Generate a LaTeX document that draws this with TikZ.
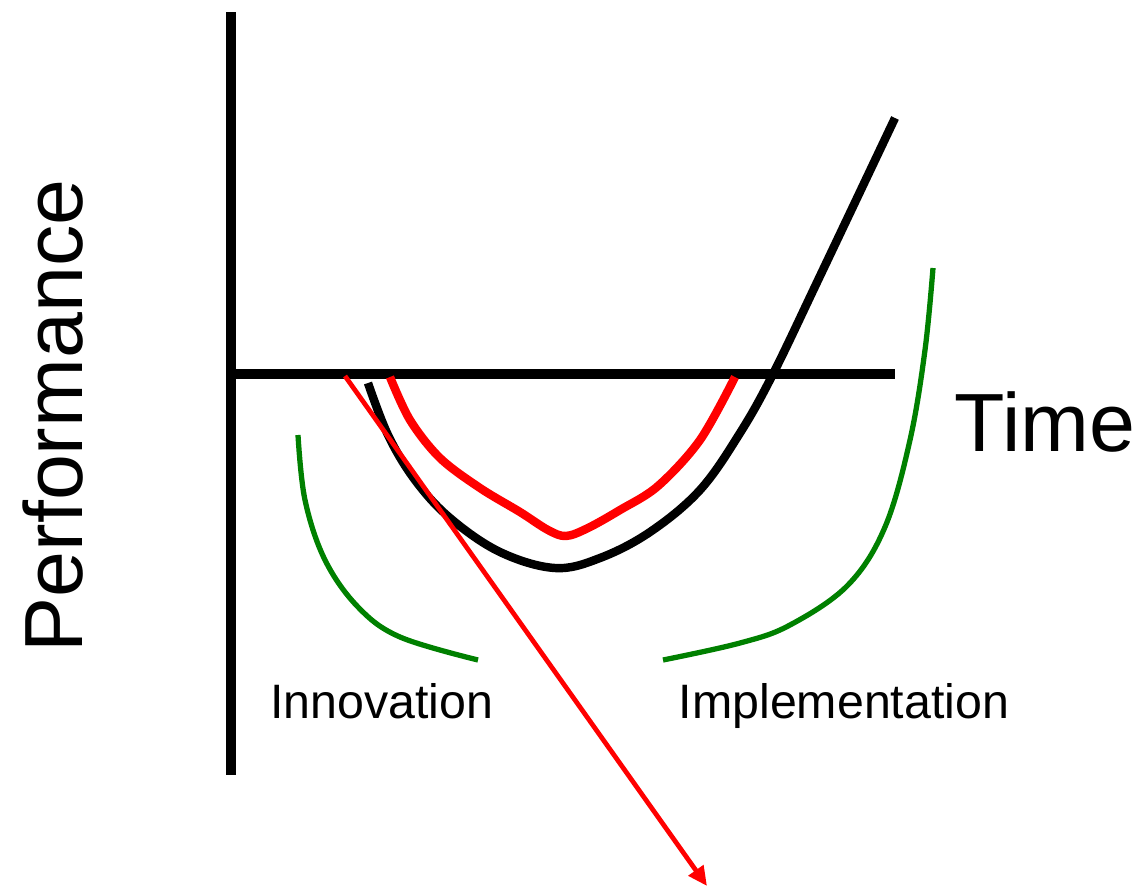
\documentclass[tikz,border=0pt]{standalone}
\usepackage{fontspec}
\setmainfont{Liberation Sans}
\usepackage{tikz}
\usetikzlibrary{arrows.meta}
\usepackage{xcolor}
\definecolor{jcRed}{HTML}{FF0000}
\definecolor{jcGreen}{HTML}{008000}
\tikzset{
  axisline/.style={line width=5.2pt, draw=black},
  perfcurve/.style={line width=4.8pt, draw=black, line join=round},
  plancurve/.style={line width=4.8pt, draw=jcRed, line join=round},
  phasecurve/.style={line width=3pt, draw=jcGreen},
  arrr/.style={-{Triangle[length=11pt,width=10pt]}, line width=2.7pt, draw=jcRed},
  biglabel/.style={font=\fontsize{47}{50}\selectfont, inner sep=0pt},
  phaselabel/.style={font=\fontsize{27.5}{30}\selectfont, inner sep=0pt}
}
\begin{document}
\begin{tikzpicture}[x=0.02cm,y=-0.02cm]
  \useasboundingbox (0,0) rectangle (1140,887);
  % axes
  \coordinate (origin) at (231,374);
  \coordinate (ytop) at (231,12);
  \coordinate (ybot) at (231,775);
  \coordinate (xend) at (895,374);
  \draw[axisline] (ytop) -- (ybot);
  \draw[axisline] (origin) -- (xend);
  \node[biglabel, rotate=90, anchor=base] (perf) at (82,416) {Performance};
  \node[biglabel, anchor=base] (time) at (1045,451) {Time};
  % actual and planned curves
  \draw[perfcurve] plot[smooth, tension=0.6] coordinates {(368,383) (388,435) (415,480) (450,518) (500,552) (555,568) (600,558) (650,532) (700,490) (740,433) (773,374) (820,276) (895,118)};
  \draw[plancurve] plot[smooth, tension=0.55] coordinates {(390,377) (410,420) (440,458) (480,488) (520,512) (548,530) (566,536) (588,528) (620,510) (658,486) (700,440) (735,377)};
  % phases
  \draw[phasecurve] plot[smooth, tension=0.6] coordinates {(298,435) (305,500) (325,560) (358,607) (400,637) (478,660)};
  \draw[phasecurve] plot[smooth, tension=0.6] coordinates {(933,268) (925,350) (910,440) (885,527) (848,585) (790,625) (740,643) (663,660)};
  \node[phaselabel, anchor=base] (innov) at (382,718) {Innovation};
  \node[phaselabel, anchor=base] (impl) at (844,718) {Implementation};
  % dip arrow
  \coordinate (dipstart) at (345,376);
  \coordinate (dipend) at (707,886);
  \draw[arrr] (dipstart) -- (dipend);
\end{tikzpicture}
\end{document}
